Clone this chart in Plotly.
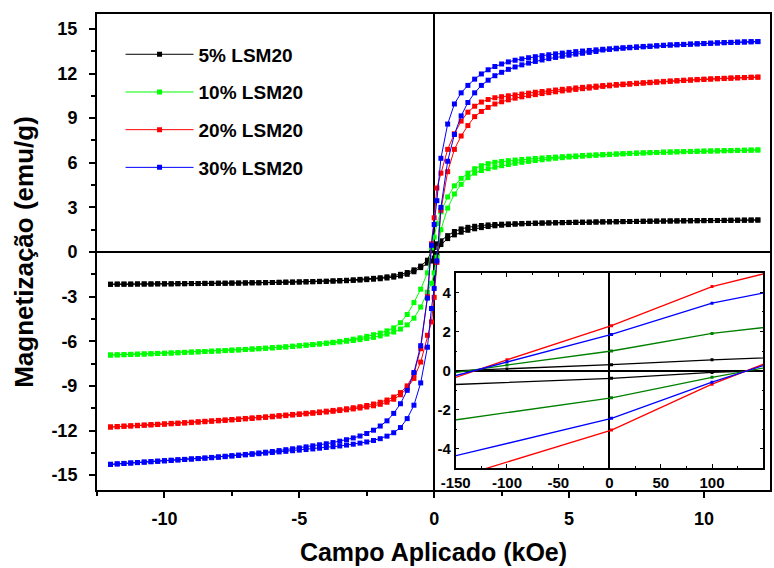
import plotly.graph_objects as go

# Field grid (kOe), descending sweep (+12 -> -12)
field_desc = [12.0, 11.75, 11.5, 11.25, 11.0, 10.75, 10.5, 10.25,
              10.0, 9.75, 9.5, 9.25, 9.0, 8.75, 8.5, 8.25,
              8.0, 7.75, 7.5, 7.25, 7.0, 6.75, 6.5, 6.25,
              6.0, 5.75, 5.5, 5.25, 5.0, 4.75, 4.5, 4.25,
              4.0, 3.75, 3.5, 3.25, 3.0, 2.75, 2.5, 2.25,
              2.0, 1.75, 1.5, 1.25, 1.0, 0.75, 0.5, 0.25,
              0.1, 0.0, -0.1,
              -0.25, -0.5, -0.75, -1.0, -1.25, -1.5, -1.75, -2.0,
              -2.25, -2.5, -2.75, -3.0, -3.25, -3.5, -3.75, -4.0,
              -4.25, -4.5, -4.75, -5.0, -5.25, -5.5, -5.75, -6.0,
              -6.25, -6.5, -6.75, -7.0, -7.25, -7.5, -7.75, -8.0,
              -8.25, -8.5, -8.75, -9.0, -9.25, -9.5, -9.75, -10.0,
              -10.25, -10.5, -10.75, -11.0, -11.25, -11.5, -11.75, -12.0]
# ascending sweep (-12 -> +12)
field_asc = list(reversed(field_desc))

# Magnetization (emu/g)
m5_desc = [2.15, 2.15, 2.14, 2.14, 2.13, 2.13, 2.12, 2.12,
           2.11, 2.11, 2.10, 2.10, 2.09, 2.09, 2.08, 2.08,
           2.07, 2.07, 2.06, 2.05, 2.05, 2.04, 2.03, 2.03,
           2.02, 2.01, 2.00, 2.00, 1.99, 1.98, 1.97, 1.96,
           1.95, 1.94, 1.93, 1.92, 1.90, 1.89, 1.87, 1.85,
           1.82, 1.78, 1.73, 1.66, 1.55, 1.38, 1.10, 0.75,
           0.55, 0.30, 0.08,
           -0.55, -0.95, -1.20, -1.38, -1.50, -1.60, -1.67, -1.73,
           -1.77, -1.81, -1.84, -1.87, -1.90, -1.92, -1.94, -1.96,
           -1.97, -1.99, -2.00, -2.01, -2.02, -2.03, -2.04, -2.05,
           -2.06, -2.07, -2.07, -2.08, -2.09, -2.09, -2.10, -2.10,
           -2.11, -2.11, -2.12, -2.12, -2.13, -2.13, -2.14, -2.14,
           -2.14, -2.15, -2.15, -2.15, -2.16, -2.16, -2.16, -2.17]
m5_asc = [-2.17, -2.16, -2.16, -2.16, -2.15, -2.15, -2.15, -2.14,
          -2.14, -2.14, -2.13, -2.13, -2.12, -2.12, -2.11, -2.11,
          -2.10, -2.10, -2.09, -2.09, -2.08, -2.07, -2.07, -2.06,
          -2.05, -2.04, -2.03, -2.03, -2.02, -2.01, -2.00, -1.99,
          -1.98, -1.96, -1.95, -1.93, -1.91, -1.89, -1.86, -1.83,
          -1.80, -1.75, -1.69, -1.61, -1.50, -1.33, -1.05, -0.75,
          -0.61, -0.40, -0.10,
          0.50, 0.90, 1.15, 1.33, 1.46, 1.56, 1.64, 1.71,
          1.76, 1.80, 1.84, 1.87, 1.89, 1.91, 1.93, 1.94,
          1.95, 1.96, 1.97, 1.98, 1.99, 2.00, 2.00, 2.01,
          2.02, 2.03, 2.03, 2.04, 2.05, 2.05, 2.06, 2.07,
          2.07, 2.08, 2.08, 2.09, 2.09, 2.10, 2.10, 2.11,
          2.11, 2.12, 2.12, 2.13, 2.13, 2.14, 2.14, 2.15]

m10_desc = [6.86, 6.85, 6.84, 6.83, 6.82, 6.81, 6.80, 6.79,
            6.78, 6.77, 6.76, 6.75, 6.73, 6.72, 6.71, 6.69,
            6.68, 6.66, 6.65, 6.63, 6.61, 6.59, 6.57, 6.55,
            6.53, 6.51, 6.49, 6.46, 6.44, 6.41, 6.38, 6.35,
            6.32, 6.29, 6.25, 6.22, 6.18, 6.14, 6.09, 6.03,
            5.94, 5.80, 5.60, 5.30, 4.95, 4.45, 3.70, 2.70,
            1.90, 1.00, 0.28,
            -1.40, -2.50, -3.40, -4.20, -4.75, -5.10, -5.30, -5.45,
            -5.56, -5.67, -5.77, -5.86, -5.94, -6.01, -6.07, -6.12,
            -6.17, -6.22, -6.26, -6.30, -6.34, -6.38, -6.41, -6.44,
            -6.47, -6.50, -6.53, -6.55, -6.58, -6.60, -6.62, -6.65,
            -6.67, -6.69, -6.71, -6.73, -6.75, -6.77, -6.79, -6.81,
            -6.82, -6.84, -6.85, -6.87, -6.88, -6.90, -6.91, -6.92]
m10_asc = [-6.93, -6.92, -6.90, -6.89, -6.87, -6.86, -6.84, -6.82,
           -6.81, -6.79, -6.77, -6.75, -6.73, -6.71, -6.69, -6.67,
           -6.65, -6.63, -6.60, -6.58, -6.55, -6.52, -6.50, -6.47,
           -6.44, -6.41, -6.38, -6.34, -6.31, -6.27, -6.23, -6.19,
           -6.15, -6.10, -6.05, -6.00, -5.95, -5.89, -5.82, -5.74,
           -5.64, -5.52, -5.38, -5.18, -4.90, -4.45, -3.70, -2.70,
           -2.10, -1.40, -0.35,
           1.50, 2.95, 3.90, 4.55, 5.00, 5.30, 5.48, 5.60,
           5.70, 5.80, 5.88, 5.96, 6.03, 6.09, 6.15, 6.20,
           6.25, 6.30, 6.34, 6.38, 6.41, 6.44, 6.47, 6.50,
           6.53, 6.55, 6.58, 6.60, 6.62, 6.64, 6.66, 6.68,
           6.69, 6.71, 6.72, 6.74, 6.75, 6.76, 6.77, 6.78,
           6.79, 6.80, 6.81, 6.82, 6.83, 6.84, 6.85, 6.86]

m20_desc = [11.76, 11.75, 11.73, 11.72, 11.70, 11.68, 11.66, 11.64,
            11.62, 11.60, 11.57, 11.55, 11.52, 11.50, 11.47, 11.44,
            11.41, 11.38, 11.35, 11.32, 11.29, 11.26, 11.22, 11.19,
            11.15, 11.11, 11.07, 11.03, 10.98, 10.94, 10.89, 10.84,
            10.79, 10.74, 10.68, 10.62, 10.56, 10.50, 10.44, 10.37,
            10.25, 10.08, 9.80, 9.40, 8.80, 7.95, 6.90, 5.30,
            4.30, 2.30, 0.55,
            -3.00, -6.50, -8.20, -9.00, -9.45, -9.75, -9.95, -10.10,
            -10.22, -10.32, -10.40, -10.47, -10.54, -10.60, -10.65, -10.70,
            -10.75, -10.80, -10.84, -10.88, -10.92, -10.96, -11.00, -11.04,
            -11.08, -11.12, -11.15, -11.19, -11.22, -11.26, -11.29, -11.32,
            -11.35, -11.38, -11.41, -11.44, -11.47, -11.50, -11.52, -11.55,
            -11.58, -11.60, -11.63, -11.65, -11.68, -11.70, -11.73, -11.76]
m20_asc = [-11.77, -11.75, -11.72, -11.70, -11.68, -11.65, -11.63, -11.60,
           -11.58, -11.55, -11.53, -11.50, -11.47, -11.44, -11.41, -11.38,
           -11.35, -11.32, -11.29, -11.26, -11.22, -11.19, -11.15, -11.12,
           -11.08, -11.04, -11.00, -10.96, -10.92, -10.88, -10.84, -10.80,
           -10.76, -10.71, -10.66, -10.61, -10.55, -10.49, -10.42, -10.34,
           -10.24, -10.10, -9.90, -9.60, -9.15, -8.50, -7.40, -5.60,
           -4.70, -3.05, -0.70,
           2.80, 5.40, 6.90, 7.80, 8.50, 9.10, 9.45, 9.72,
           9.95, 10.10, 10.23, 10.34, 10.43, 10.51, 10.58, 10.65,
           10.71, 10.77, 10.83, 10.88, 10.93, 10.98, 11.02, 11.07,
           11.13, 11.17, 11.21, 11.25, 11.28, 11.32, 11.35, 11.38,
           11.41, 11.44, 11.47, 11.50, 11.53, 11.55, 11.58, 11.60,
           11.62, 11.64, 11.66, 11.68, 11.70, 11.72, 11.74, 11.75]

m30_desc = [14.15, 14.14, 14.12, 14.11, 14.09, 14.08, 14.06, 14.04,
            14.02, 14.00, 13.98, 13.96, 13.94, 13.92, 13.90, 13.87,
            13.84, 13.82, 13.79, 13.76, 13.73, 13.70, 13.66, 13.63,
            13.59, 13.55, 13.51, 13.47, 13.42, 13.37, 13.32, 13.26,
            13.20, 13.13, 13.06, 12.98, 12.89, 12.78, 12.64, 12.47,
            12.25, 11.97, 11.62, 11.20, 10.70, 9.95, 8.60, 6.30,
            3.45, 1.85, 0.45,
            -3.10, -6.30, -8.10, -9.30, -10.20, -10.85, -11.35, -11.70,
            -11.98, -12.20, -12.37, -12.50, -12.62, -12.72, -12.81, -12.89,
            -12.96, -13.03, -13.10, -13.17, -13.23, -13.29, -13.35, -13.41,
            -13.46, -13.51, -13.56, -13.61, -13.65, -13.69, -13.73, -13.77,
            -13.81, -13.85, -13.88, -13.91, -13.94, -13.97, -14.00, -14.03,
            -14.06, -14.09, -14.12, -14.15, -14.18, -14.21, -14.24, -14.27]
m30_asc = [-14.28, -14.25, -14.22, -14.19, -14.16, -14.13, -14.10, -14.07,
           -14.04, -14.01, -13.98, -13.95, -13.92, -13.89, -13.86, -13.83,
           -13.80, -13.76, -13.72, -13.68, -13.64, -13.60, -13.56, -13.52,
           -13.48, -13.44, -13.40, -13.36, -13.32, -13.28, -13.24, -13.19,
           -13.14, -13.09, -13.04, -12.98, -12.92, -12.85, -12.77, -12.67,
           -12.55, -12.38, -12.15, -11.80, -11.20, -10.30, -8.80, -6.40,
           -3.80, -2.45, -0.60,
           3.00, 6.10, 7.90, 9.15, 10.05, 10.70, 11.20, 11.55,
           11.85, 12.08, 12.28, 12.44, 12.58, 12.70, 12.81, 12.91,
           13.00, 13.08, 13.16, 13.23, 13.30, 13.36, 13.42, 13.48,
           13.58, 13.62, 13.66, 13.70, 13.73, 13.76, 13.79, 13.82,
           13.85, 13.88, 13.91, 13.93, 13.95, 13.97, 13.99, 14.01,
           14.03, 14.05, 14.07, 14.09, 14.10, 14.12, 14.13, 14.14]

series_names = ["5% LSM20", "10% LSM20", "20% LSM20", "30% LSM20"]
series_colors = ["#000000", "#00FF00", "#FF0000", "#0000FF"]
series_desc = [m5_desc, m10_desc, m20_desc, m30_desc]
series_asc = [m5_asc, m10_asc, m20_asc, m30_asc]

# Main axis ticks
x_ticks = [-10, -5, 0, 5, 10]
x_ticktext = ["-10", "-5", "0", "5", "10"]
y_ticks = [-15, -12, -9, -6, -3, 0, 3, 6, 9, 12, 15]
y_ticktext = ["-15", "-12", "-9", "-6", "-3", "0", "3", "6", "9", "12", "15"]

# Inset (field in Oe)
inset_field_desc = [200, 100, 2, -100, -200]
inset_field_asc = [-200, 2, 100, 200]
inset_colors = ["#000000", "#008000", "#FF0000", "#0000FF"]
inset_desc = [[0.75, 0.55, 0.30, 0.08, -0.12],
              [2.50, 1.90, 1.00, 0.28, -0.48],
              [5.60, 4.30, 2.30, 0.55, -1.25],
              [4.49, 3.45, 1.85, 0.45, -0.95]]
inset_asc = [[-0.82, -0.40, -0.10, 0.10],
             [-2.90, -1.40, -0.35, 0.60],
             [-6.30, -3.05, -0.70, 1.34],
             [-5.00, -2.45, -0.60, 1.10]]
ix_ticks = [-150, -100, -50, 0, 50, 100, 150]
ix_ticktext = ["-150", "-100", "-50", "0", "50", "100", "150"]
iy_ticks = [-4, -2, 0, 2, 4]
iy_ticktext = ["-4", "-2", "0", "2", "4"]

FONT = "Arial, Liberation Sans, sans-serif"
fig = go.Figure()

for name, col, d, a in zip(series_names, series_colors, series_desc, series_asc):
    fig.add_trace(go.Scatter(
        x=field_desc + field_asc, y=d + a, name=name, legendgroup=name,
        mode="lines+markers",
        line=dict(color=col, width=1),
        marker=dict(symbol="square", size=5, color=col),
    ))

for col, d, a in zip(inset_colors, inset_desc, inset_asc):
    fig.add_trace(go.Scatter(
        x=inset_field_desc, y=d, mode="lines+markers", showlegend=False,
        line=dict(color=col, width=1.3), marker=dict(symbol="square", size=3, color=col),
        xaxis="x2", yaxis="y2"))
    fig.add_trace(go.Scatter(
        x=inset_field_asc, y=a, mode="lines+markers", showlegend=False,
        line=dict(color=col, width=1.3), marker=dict(symbol="square", size=3, color=col),
        xaxis="x2", yaxis="y2"))

fig.update_layout(
    width=774, height=568,
    margin=dict(l=97, r=2, t=14, b=78),
    plot_bgcolor="white", paper_bgcolor="white",
    font=dict(family=FONT, color="black"),
    showlegend=True,
    legend=dict(x=0.035, y=0.955, xanchor="left", yanchor="top",
                bgcolor="rgba(0,0,0,0)", tracegroupgap=10, itemwidth=68,
                font=dict(size=19, family=FONT, weight="bold")),
    xaxis=dict(range=[-12.5, 12.45], tickvals=x_ticks, ticktext=x_ticktext,
               ticks="outside", ticklen=6, tickwidth=2, tickcolor="black",
               minor=dict(dtick=2.5, tick0=0, ticks="outside", ticklen=4, tickwidth=2, tickcolor="black"),
               showline=True, linewidth=2, linecolor="black", mirror=True,
               showgrid=False, zeroline=True, zerolinecolor="black", zerolinewidth=2,
               tickfont=dict(size=18, family=FONT, weight="bold"), ticklabelstandoff=5,
               title=dict(text="Campo Aplicado (kOe)", standoff=16,
                          font=dict(size=25, family=FONT, weight="bold"))),
    yaxis=dict(range=[-16, 16], tickvals=y_ticks, ticktext=y_ticktext,
               ticks="outside", ticklen=6, tickwidth=2, tickcolor="black",
               minor=dict(dtick=1.5, tick0=0, ticks="outside", ticklen=4, tickwidth=2, tickcolor="black"),
               showline=True, linewidth=2, linecolor="black", mirror=True,
               showgrid=False, zeroline=True, zerolinecolor="black", zerolinewidth=2,
               tickfont=dict(size=18, family=FONT, weight="bold"), ticklabelstandoff=8,
               title=dict(text="Magnetização (emu/g)", standoff=10,
                          font=dict(size=26, family=FONT, weight="bold"))),
    xaxis2=dict(domain=[0.533, 0.99], anchor="y2", range=[-150, 150],
                tickvals=ix_ticks, ticktext=ix_ticktext,
                ticks="inside", ticklen=4, tickwidth=1, tickcolor="black",
                minor=dict(dtick=25, ticks="inside", ticklen=2, tickcolor="black"),
                showline=True, linewidth=1.5, linecolor="black", mirror="allticks",
                showgrid=False, zeroline=True, zerolinecolor="black", zerolinewidth=1.5,
                tickfont=dict(size=15, family=FONT, weight="bold")),
    yaxis2=dict(domain=[0.046, 0.456], anchor="x2", range=[-5, 5],
                tickvals=iy_ticks, ticktext=iy_ticktext,
                ticks="inside", ticklen=4, tickwidth=1, tickcolor="black",
                minor=dict(dtick=1, ticks="inside", ticklen=2, tickcolor="black"),
                showline=True, linewidth=1.5, linecolor="black", mirror="allticks",
                showgrid=False, zeroline=True, zerolinecolor="black", zerolinewidth=1.5,
                tickfont=dict(size=15, family=FONT, weight="bold")),
)

fig.write_html("out.html")
